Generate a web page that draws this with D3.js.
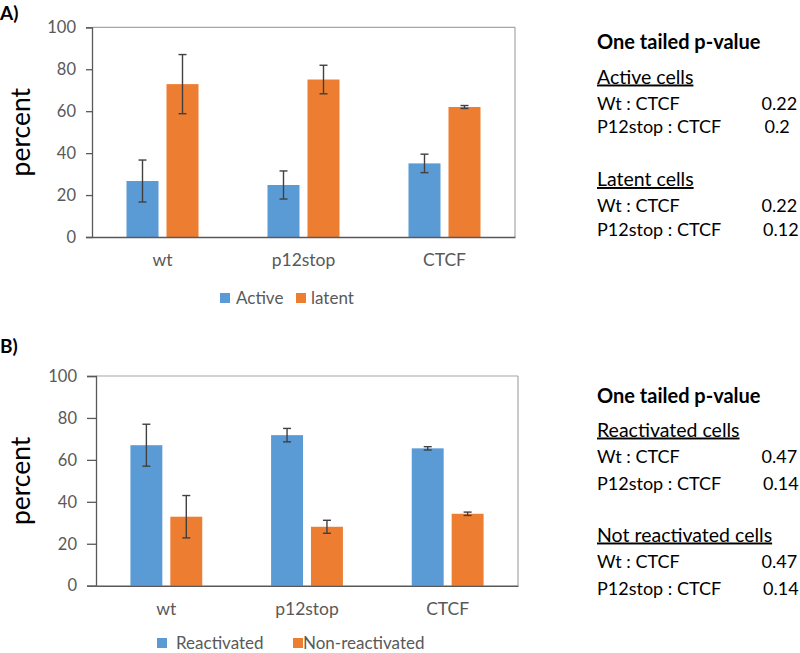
<!DOCTYPE html>
<html>
<head>
<meta charset="utf-8">
<script src="https://cdn.jsdelivr.net/npm/d3@7"></script>
<style>
  html, body { margin: 0; padding: 0; background: #fff; }
  svg { display: block; }
  text { font-family: Lato, "Open Sans", sans-serif; }
</style>
</head>
<body>
<svg id="chart" width="800" height="653"></svg>
<script>
// ---------------- DATA ----------------
const categories = ["wt", "p12stop", "CTCF"];
const yTicks = [0, 20, 40, 60, 80, 100];

// Panel A
const seriesA = ["Active", "latent"];
const activeValues = [26.7, 24.8, 35.1];
const activeErrors = [10.0, 6.7, 4.4];
const latentValues = [72.9, 75.1, 62.0];
const latentErrors = [14.1, 6.8, 0.7];

// Panel B
const seriesB = ["Reactivated", "Non-reactivated"];
const reactivatedValues = [67.0, 71.8, 65.5];
const reactivatedErrors = [10.0, 3.2, 0.8];
const nonReactivatedValues = [32.9, 28.1, 34.3];
const nonReactivatedErrors = [10.1, 3.1, 0.8];

// p-value tables
const pTitle = "One tailed p-value";
const pHeadersA = ["Active cells", "Latent cells"];
const pHeadersB = ["Reactivated cells", "Not reactivated cells"];
const pComparisons = ["Wt : CTCF", "P12stop : CTCF"];
const pValuesA = [["0.22", "0.2"], ["0.22", "0.12"]];
const pValuesB = [["0.47", "0.14"], ["0.47", "0.14"]];

// ---------------- STYLE ----------------
const colors = ["#5B9BD5", "#ED7D31"];
const axisColor = "#595959";
const frameColor = "#a6a6a6";
const textGray = "#595959";

const svg = d3.select("#chart");

function drawPanel(opt) {
  const g = svg.append("g");
  const x0 = d3.scaleBand().domain(categories).range([opt.x0, opt.x1]).padding(0);
  const x1 = d3.scaleBand().domain(opt.series).range([0, x0.bandwidth()])
    .paddingInner(0.2).paddingOuter(0.8625);
  const y = d3.scaleLinear().domain([0, 100]).range([opt.yBottom, opt.yTop]);

  // frame (top & right)
  g.append("line").attr("x1", opt.x0).attr("x2", opt.x1)
    .attr("y1", y(100)).attr("y2", y(100))
    .attr("stroke", frameColor).attr("stroke-width", 1.2);
  g.append("line").attr("x1", opt.x1).attr("x2", opt.x1)
    .attr("y1", y(100)).attr("y2", y(0))
    .attr("stroke", frameColor).attr("stroke-width", 1.2);

  // bars
  const rows = [];
  categories.forEach((c, i) => {
    opt.series.forEach((s, j) => {
      rows.push({cat: c, ser: s, j: j, v: opt.values[j][i], e: opt.errors[j][i]});
    });
  });
  g.selectAll("rect.bar").data(rows).enter().append("rect")
    .attr("class", "bar")
    .attr("x", d => x0(d.cat) + x1(d.ser))
    .attr("width", x1.bandwidth())
    .attr("y", d => y(d.v))
    .attr("height", d => y(0) - y(d.v))
    .attr("fill", d => colors[d.j]);

  // error bars
  const eb = g.selectAll("g.err").data(rows).enter().append("g").attr("class", "err")
    .attr("stroke", "#404040").attr("stroke-width", 1.4);
  const cx = d => x0(d.cat) + x1(d.ser) + x1.bandwidth() / 2;
  eb.append("line").attr("x1", cx).attr("x2", cx)
    .attr("y1", d => y(d.v + d.e)).attr("y2", d => y(d.v - d.e));
  eb.append("line").attr("x1", d => cx(d) - 4).attr("x2", d => cx(d) + 4)
    .attr("y1", d => y(d.v + d.e)).attr("y2", d => y(d.v + d.e));
  eb.append("line").attr("x1", d => cx(d) - 4).attr("x2", d => cx(d) + 4)
    .attr("y1", d => y(d.v - d.e)).attr("y2", d => y(d.v - d.e));

  // y axis
  const ya = g.append("g").attr("transform", `translate(${opt.x0},0)`)
    .call(d3.axisLeft(y).tickValues(yTicks).tickSize(opt.tickSize).tickPadding(opt.tickPad));
  ya.select(".domain").attr("stroke", axisColor).attr("stroke-width", 1.3);
  ya.selectAll(".tick line").attr("stroke", axisColor).attr("stroke-width", 1.3);
  ya.selectAll(".tick text").attr("fill", textGray).style("font-size", "16.5px")
    .style("font-family", "Lato, sans-serif");

  // x axis
  const xa = g.append("g").attr("transform", `translate(0,${y(0)})`)
    .call(d3.axisBottom(x0).tickSize(0).tickPadding(opt.xLabelPad));
  xa.select(".domain").attr("stroke", axisColor).attr("stroke-width", 1.5);
  xa.selectAll(".tick text").attr("fill", textGray).style("font-size", "17.5px")
    .style("font-family", "Lato, sans-serif");

  // y label
  g.append("text")
    .attr("transform", `translate(${opt.yLabelX},${(y(0) + y(100)) / 2}) rotate(-90)`)
    .attr("text-anchor", "middle")
    .attr("dominant-baseline", "central")
    .style("font-size", "26.5px")
    .attr("fill", "#000")
    .text("percent");

  // panel letter
  g.append("text").attr("x", 0).attr("y", opt.letterY)
    .style("font-size", "19px").style("font-weight", "bold")
    .text(opt.letter);

  // legend
  const lg = g.selectAll("g.leg").data(opt.series).enter().append("g").attr("class", "leg");
  lg.append("rect")
    .attr("x", (d, i) => opt.legend[i][0]).attr("y", opt.legendY - 11)
    .attr("width", 10).attr("height", 10)
    .attr("fill", (d, i) => colors[i]);
  lg.append("text")
    .attr("x", (d, i) => opt.legend[i][1]).attr("y", opt.legendY)
    .attr("fill", textGray).style("font-size", "17px")
    .text(d => d);
}

drawPanel({
  letter: "A)", letterY: 20,
  x0: 92, x1: 515, yBottom: 237, yTop: 27.3,
  series: seriesA,
  values: [activeValues, latentValues],
  errors: [activeErrors, latentErrors],
  tickSize: 6, tickPad: 10, xLabelPad: 17,
  yLabelX: 20,
  legend: [[220, 236], [296, 311]], legendY: 304
});

drawPanel({
  letter: "B)", letterY: 353,
  x0: 96, x1: 518, yBottom: 585.7, yTop: 376,
  series: seriesB,
  values: [reactivatedValues, nonReactivatedValues],
  errors: [reactivatedErrors, nonReactivatedErrors],
  tickSize: 9, tickPad: 10, xLabelPad: 17,
  yLabelX: 20,
  legend: [[157, 176], [293, 303]], legendY: 649
});

function drawTable(opt) {
  const g = svg.append("g");
  g.append("text").attr("x", opt.x).attr("y", opt.titleY)
    .style("font-size", "20px").style("font-weight", "bold").attr("fill", "#000")
    .text(pTitle);
  opt.headers.forEach((h, k) => {
    const base = opt.blockY[k];
    g.append("text").attr("x", opt.x).attr("y", base)
      .style("font-size", "19.5px").attr("fill", "#000")
      .style("text-decoration", "underline")
      .text(h);
    pComparisons.forEach((c, r) => {
      const yy = base + opt.rowY[r];
      g.append("text").attr("x", opt.x).attr("y", yy)
        .style("font-size", "18px").attr("fill", "#000").text(c);
      g.append("text").attr("x", opt.valX[k][r]).attr("y", yy)
        .style("font-size", "18px").attr("fill", "#000").text(opt.values[k][r]);
    });
  });
}

drawTable({
  x: 597, titleY: 48.5,
  headers: pHeadersA, values: pValuesA,
  blockY: [83.5, 186], rowY: [26, 49.5],
  valX: [[761.5, 764.5], [761.5, 763]]
});

drawTable({
  x: 597, titleY: 403,
  headers: pHeadersB, values: pValuesB,
  blockY: [436.5, 541.5], rowY: [26.5, 53],
  valX: [[761.5, 763], [761.5, 763]]
});
</script>
</body>
</html>
